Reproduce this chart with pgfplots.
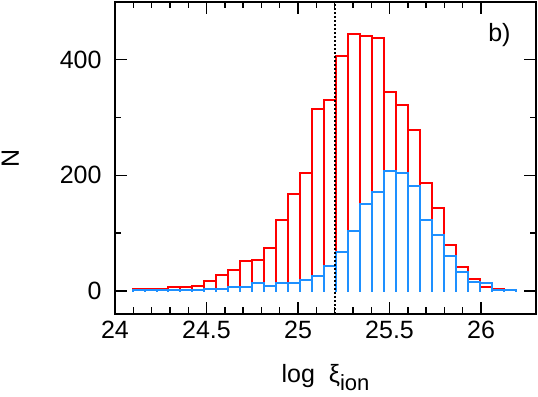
\documentclass[border=0pt]{standalone}
\usepackage{pgfplots}
\usepackage{pgfplotstable}
\pgfplotsset{compat=1.18}
\usepackage{fontspec}
\setmainfont{Liberation Sans}
\definecolor{histred}{RGB}{255,0,0}
\definecolor{histblue}{RGB}{30,144,255}

% left bin edge, count (last row closes the final bin)
\pgfplotstableread{
x h
24.0960 4
24.1614 4
24.2268 4
24.2922 6
24.3576 6
24.4230 9
24.4884 17
24.5538 27
24.6192 37
24.6846 51
24.7500 53
24.8154 75
24.8808 122
24.9462 167
25.0116 204
25.0770 315
25.1424 330
25.2078 407
25.2732 445
25.3386 441
25.4040 438
25.4694 344
25.5348 321
25.6002 279
25.6656 186
25.7310 143
25.7964 79
25.8618 41
25.9272 20
25.9926 6
26.0580 4
26.1234 4
}\redhist

\pgfplotstableread{
x h
24.0960 2
24.1614 2
24.2268 2
24.2922 2
24.3576 2
24.4230 2
24.4884 3
24.5538 3
24.6192 7
24.6846 6
24.7500 13
24.8154 8
24.8808 13
24.9462 13
25.0116 18
25.0770 25
25.1424 43
25.2078 68
25.2732 104
25.3386 151
25.4040 172
25.4694 208
25.5348 204
25.6002 181
25.6656 122
25.7310 96
25.7964 60
25.8618 33
25.9272 16
25.9926 14
26.0580 1
26.1234 2
26.1888 2
}\bluehist

\begin{document}
\begin{tikzpicture}
\begin{axis}[
  name=ax,
  scale only axis,
  width=421pt,height=312pt,
  xmin=24,xmax=26.3,ymin=-40,ymax=500,
  xtick={24,24.5,25,25.5,26},minor x tick num=4,
  ytick={0,200,400},minor y tick num=1,
  tick align=inside,
  major tick length=12pt,minor tick length=6.5pt,
  axis line style={line width=1.6pt},
  every tick/.style={black,line width=1.4pt},
  /pgf/number format/assume math mode=true,
  tick label style={font=\fontsize{25}{30}\selectfont},
  xticklabel style={yshift=-4pt},
  yticklabel style={xshift=-10pt},
  label style={font=\fontsize{25}{30}\selectfont},
  xlabel={log\ \ ξ\raisebox{-0.3em}{\fontsize{22}{24}\selectfont ion}},
  xlabel style={at={(rel axis cs:0.5,0)},anchor=base,yshift=-69pt},
  ylabel={N},
  ylabel style={at={(rel axis cs:-0.228,0.5)},anchor=south,inner sep=0pt},
]
\addplot[histred,line width=2pt,const plot mark left] table[x=x,y=h]{\redhist};
\addplot[histred,line width=2pt,ycomb,line cap=rect] table[x=x,y=h]{\redhist};
\addplot[histblue,line width=2pt,const plot mark left] table[x=x,y=h]{\bluehist};
\addplot[histblue,line width=2pt,ycomb,line cap=rect] table[x=x,y=h]{\bluehist};
\addplot[black,line width=2.2pt,dash pattern=on 2pt off 2pt] coordinates {(25.2,-40) (25.2,500)};
\node[anchor=base west,font=\fontsize{25}{30}\selectfont] at (axis cs:26.02,432) {b)};
\end{axis}
\pgfresetboundingbox
\path[use as bounding box] ([xshift=-115pt,yshift=-83pt]ax.south west) rectangle ([xshift=2pt,yshift=2pt]ax.north east);
\end{tikzpicture}
\end{document}
